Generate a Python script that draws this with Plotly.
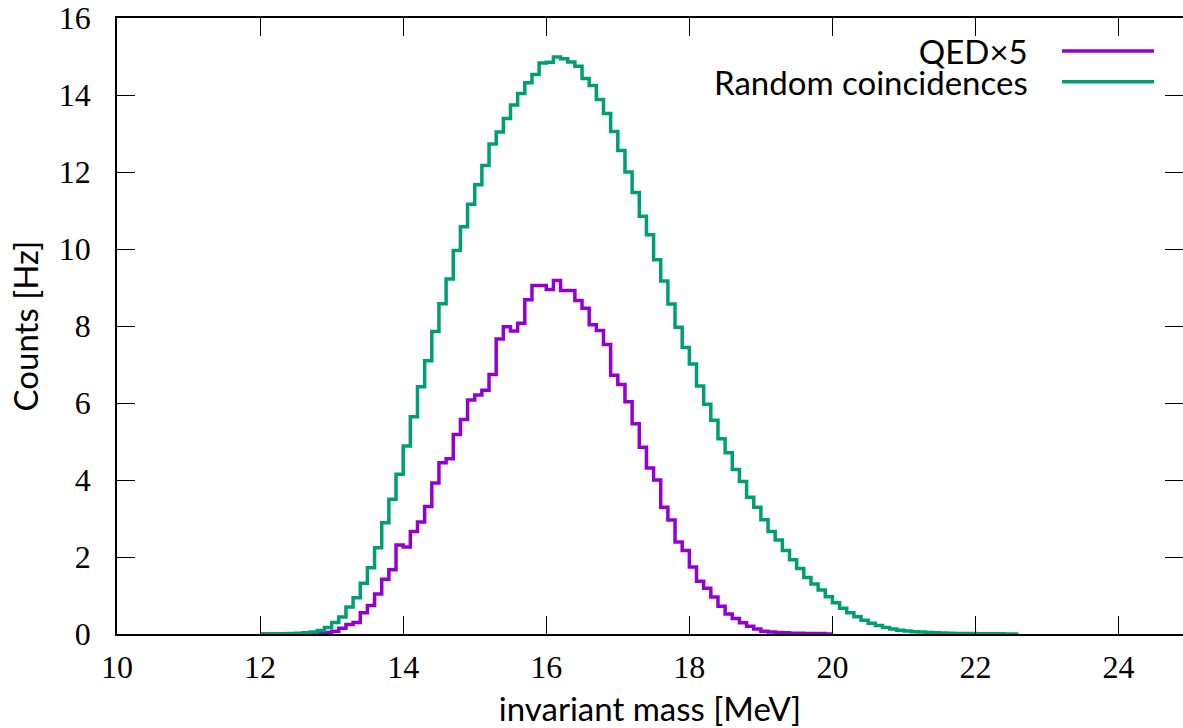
import numpy as np
import plotly.graph_objects as go

# histogram binning (MeV)
bin_start = 12.0
bin_width = 0.1

# QED x5 [Hz] per 0.1 MeV bin, starting at 12.0 MeV
qed_x5 = [
    0.0, 0.0, 0.0, 0.0, 0.0, 0.0, 0.01, 0.01, 0.02, 0.04,      # 12.0-12.9
    0.07, 0.15, 0.25, 0.30, 0.55, 0.74, 1.04, 1.42, 1.67, 2.31, # 13.0-13.9
    2.26, 2.66, 2.91, 3.31, 3.92, 4.45, 4.55, 5.18, 5.57, 6.08, # 14.0-14.9
    6.21, 6.33, 6.74, 7.66, 7.98, 7.87, 8.07, 8.68, 9.05, 9.05, # 15.0-15.9
    8.95, 9.18, 8.92, 8.92, 8.66, 8.46, 8.03, 7.88, 7.52, 6.72, # 16.0-16.9
    6.48, 6.03, 5.46, 4.85, 4.31, 4.00, 3.29, 2.96, 2.39, 2.17, # 17.0-17.9
    1.74, 1.37, 1.19, 0.96, 0.72, 0.52, 0.40, 0.29, 0.20, 0.13, # 18.0-18.9
    0.07, 0.05, 0.04, 0.03, 0.02, 0.02, 0.01, 0.01, 0.01, 0.0,  # 19.0-19.9
]

# Random coincidences [Hz] per 0.1 MeV bin, starting at 12.0 MeV
random_coinc = [
    0.0, 0.0, 0.0, 0.005, 0.01, 0.02, 0.03, 0.05, 0.09, 0.17,          # 12.0-12.9
    0.30, 0.44, 0.70, 0.94, 1.32, 1.72, 2.24, 2.89, 3.50, 4.15,        # 13.0-13.9
    4.88, 5.64, 6.42, 7.10, 7.86, 8.58, 9.22, 9.96, 10.58, 11.16,      # 14.0-14.9
    11.67, 12.17, 12.73, 13.04, 13.39, 13.74, 14.04, 14.32, 14.53, 14.83, # 15.0-15.9
    14.85, 14.99, 14.94, 14.86, 14.75, 14.43, 14.25, 13.88, 13.52, 13.05, # 16.0-16.9
    12.56, 12.00, 11.47, 10.85, 10.37, 9.72, 9.17, 8.57, 7.97, 7.44,   # 17.0-17.9
    7.01, 6.44, 5.97, 5.55, 5.07, 4.71, 4.27, 3.96, 3.55, 3.29,        # 18.0-18.9
    2.97, 2.66, 2.44, 2.17, 1.93, 1.70, 1.47, 1.30, 1.14, 0.97,        # 19.0-19.9
    0.81, 0.67, 0.55, 0.45, 0.36, 0.28, 0.22, 0.17, 0.13, 0.10,        # 20.0-20.9
    0.08, 0.06, 0.05, 0.04, 0.03, 0.025, 0.02, 0.015, 0.012, 0.01,     # 21.0-21.9
    0.008, 0.006, 0.005, 0.004, 0.003, 0.002,                          # 22.0-22.5
]

series_names = ["QED×5", "Random coincidences"]
colors = ["#9400D3", "#009E73"]

x_ticks = [10, 12, 14, 16, 18, 20, 22, 24]
y_ticks = [0, 2, 4, 6, 8, 10, 12, 14, 16]


def step_xy(values):
    edges = bin_start + bin_width * np.arange(len(values) + 1)
    ys = list(values) + [values[-1]]
    return edges, ys


fig = go.Figure()
for vals, name, col in zip([qed_x5, random_coinc], series_names, colors):
    xs, ys = step_xy(vals)
    fig.add_trace(go.Scatter(x=xs, y=ys, mode="lines", line_shape="hv",
                             line=dict(color=col, width=3.5), name=name,
                             showlegend=False))
# carrier for the right-hand tick axis (no data)
fig.add_trace(go.Scatter(x=[], y=[], yaxis="y2", showlegend=False, hoverinfo="skip"))

serif = "Liberation Serif"
sans = "Lato"
tick_font = dict(family=serif, size=32, color="black")
title_font = dict(family=sans, size=33, color="black")

fig.update_layout(
    width=1183, height=728,
    margin=dict(l=117, r=0, t=18, b=94),
    plot_bgcolor="white", paper_bgcolor="white",
    xaxis=dict(range=[10, 24.9], tickvals=x_ticks, ticks="inside", ticklen=18,
               tickwidth=1.3, tickcolor="black", showline=True, linecolor="black",
               linewidth=1.6, mirror="ticks", showgrid=False, zeroline=False,
               automargin=False, tickfont=tick_font, ticklabelstandoff=4,
               title=dict(text="invariant mass [MeV]", standoff=17, font=title_font)),
    yaxis=dict(range=[0, 16], tickvals=y_ticks, ticks="inside", ticklen=18,
               tickwidth=1.3, tickcolor="black", showline=True, linecolor="black",
               linewidth=1.6, mirror=False, showgrid=False, zeroline=False,
               automargin=False, tickfont=tick_font, ticklabelstandoff=18,
               title=dict(text="Counts [Hz]", standoff=10, font=title_font)),
    yaxis2=dict(range=[0, 16], tickvals=y_ticks, ticks="inside", ticklen=18,
                tickwidth=1.3, tickcolor="black", overlaying="y", side="right",
                showline=False, showgrid=False, zeroline=False,
                showticklabels=False, automargin=False),
)

# key (gnuplot style: labels right-aligned, sample lines on the right)
key_rows_y = [0.9466, 0.8966]
key_text = "<br>".join(
    f'<span style="font-size:33px">{n}</span>' for n in series_names)
fig.add_annotation(xref="paper", yref="paper", x=0.8565,
                   y=sum(key_rows_y) / 2, xanchor="right", yanchor="middle",
                   showarrow=False, align="right", text=key_text,
                   font=dict(family=sans, size=24, color="black"))
for col, yy in zip(colors, key_rows_y):
    fig.add_shape(type="line", xref="paper", yref="paper",
                  x0=0.8865, x1=0.9728, y0=yy, y1=yy,
                  line=dict(color=col, width=3.5))

fig.write_html(
    "out.html",
    config={"displayModeBar": False},
    post_script="document.body.style.margin='0';document.body.style.overflow='hidden';",
)
